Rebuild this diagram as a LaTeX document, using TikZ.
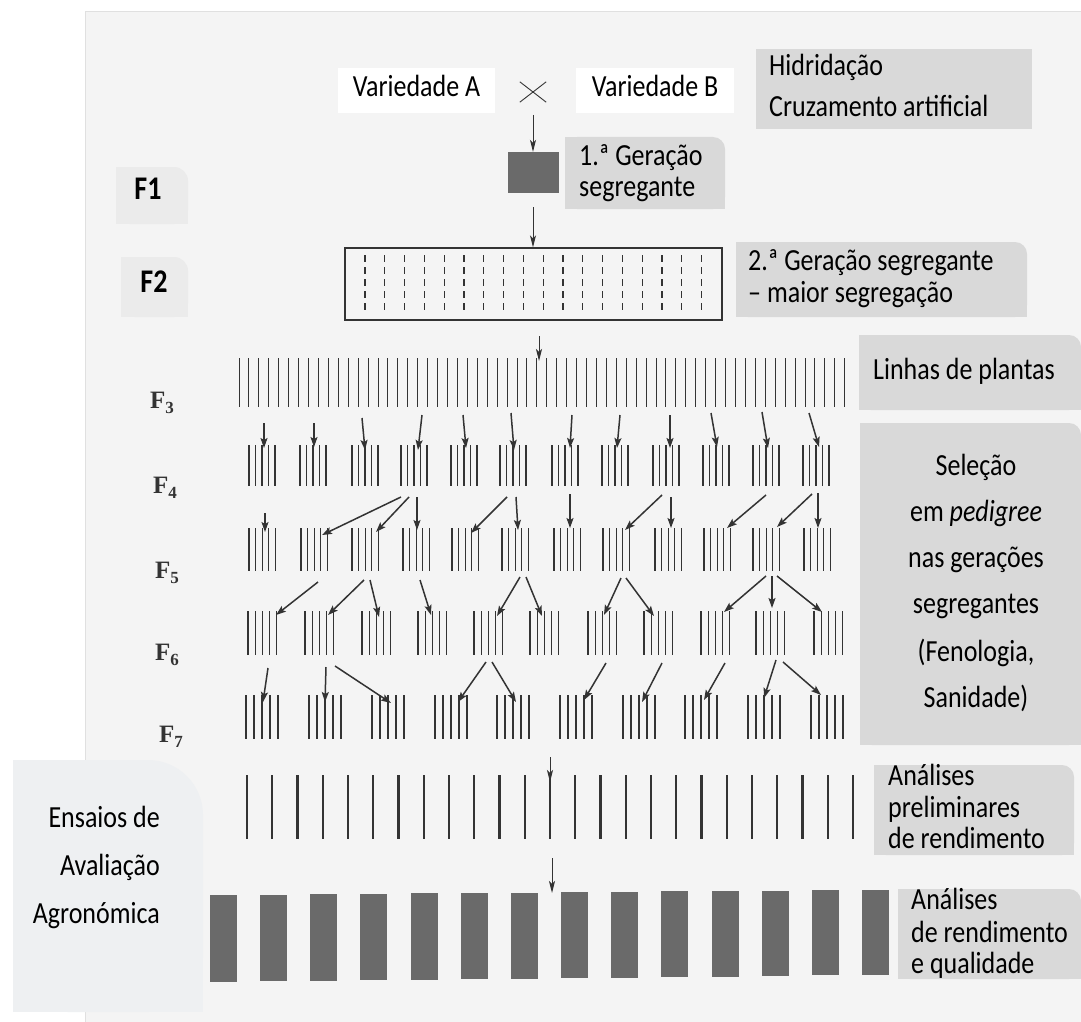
\documentclass[tikz,border=0pt]{standalone}
\usepackage{fontspec}
\usepackage{graphicx}
\setmainfont{Carlito}
\newfontfamily\fserif{Liberation Serif}
\usetikzlibrary{arrows.meta}
\definecolor{pagebg}{HTML}{F4F4F4}
\definecolor{boxgray}{HTML}{D9D9D9}
\definecolor{lightbox}{HTML}{EBEBEB}
\definecolor{ensbox}{HTML}{EEF0F2}
\definecolor{ink}{HTML}{333333}
\definecolor{bardark}{HTML}{6A6A6A}
\newcommand\trbox[6]{%
  \fill[#6,rounded corners=#5pt] (#1,#2) rectangle (#3,#4);
  \fill[#6] (#1,#2) rectangle ({#3-#5},#4);
  \fill[#6] (#1,{#2+#5}) rectangle (#3,#4);}
\newcommand\plantgrp[5]{%
  \foreach \k in {0,...,4} {\draw[plantline] ({#1+\k*#4},#2) -- ({#1+\k*#4},#3);}}
\newcommand\tall[1]{\scalebox{1}[1.18]{#1}}
\begin{document}
\begin{tikzpicture}[x=1pt,y=-1pt,
  txt/.style={inner sep=0pt, yshift=-3pt, font=\fontsize{26}{30}\selectfont, text=black},
  flab/.style={inner sep=0pt, font=\bfseries\fontsize{28}{30}\selectfont, text=black},
  glabel/.style={inner sep=0pt, font=\fserif\bfseries\fontsize{25}{28}\selectfont, text=ink},
  flowarrow/.style={draw=ink, line width=1pt, -{Stealth[length=12pt,width=6pt,inset=3pt]}},
  pedarrow/.style={draw=ink, line width=1.5pt, -{Stealth[length=10pt,width=7pt,inset=2pt]}},
  plantline/.style={draw=ink, line width=1.1pt},
]
\useasboundingbox (0,0) rectangle (1081,1022);
\fill[white] (0,0) rectangle (1081,1022);
% page
\fill[pagebg] (85,11) rectangle (1081,1022);
\draw[black!12, line width=0.6pt] (85,1022) -- (85,11) -- (1081,11);

% --- crossing
\fill[white] (338,68) rectangle (495,113);
\node[txt, anchor=mid] (vA) at (416.5,91) {\tall{Variedade A}};
\fill[white] (576,68) rectangle (734,113);
\node[txt, anchor=mid] (vB) at (655,91) {\tall{Variedade B}};
\node[inner sep=0pt, minimum width=26pt, minimum height=20pt] (cross) at (533,92) {};
\draw[ink, line width=0.9pt] (cross.north west) -- (cross.south east)
  (cross.south west) -- (cross.north east);
\fill[boxgray] (756,49) rectangle (1032,129);
\node[txt, anchor=mid west] (hib1) at (769,70) {\tall{Hidridação}};
\node[txt, anchor=mid west] (hib2) at (769,111) {\tall{Cruzamento artificial}};

% --- F1
\node[fill=bardark, minimum width=51pt, minimum height=41pt, inner sep=0pt] (f1sq) at (533,172.5) {};
\coordinate (a1s) at (533,115);
\draw[flowarrow] (a1s) -- (f1sq.north);
\trbox{565}{137}{725}{209}{12}{boxgray}
\node[txt, anchor=mid west] (g1a) at (579,160) {\tall{1.ª Geração}};
\node[txt, anchor=mid west] (g1b) at (579,191) {\tall{segregante}};
\trbox{116}{167}{188}{224}{14}{lightbox}
\node[flab, anchor=mid] (f1lab) at (148,197) {\tall{F1}};

% --- F2
\node[draw=ink, line width=1.4pt, fill=pagebg, minimum width=377pt, minimum height=72pt, inner sep=0pt] (f2rect) at (533.5,284) {};
\foreach \i in {0,...,17} {\draw[ink, line width=1.1pt, dash pattern=on 7pt off 5pt] ({365+\i*19.8},255) -- ({365+\i*19.8},312);}
\coordinate (a2s) at (533,207);
\draw[flowarrow] (a2s) -- (a2s |- f2rect.north);
\trbox{121}{257}{188}{317}{14}{lightbox}
\node[flab, anchor=mid] (f2lab) at (154,290) {\tall{F2}};
\trbox{736}{242}{1027}{317}{12}{boxgray}
\node[txt, anchor=mid west] (g2a) at (748,265) {\tall{2.ª Geração segregante}};
\node[txt, anchor=mid west] (g2b) at (748,297) {\tall{– maior segregação}};

% --- F3
\foreach \i in {0,...,61} {\draw[plantline, line width=1pt] ({239+\i*9.93},358) -- ({239+\i*9.93},407);}
\coordinate (a3s) at (539,336);
\coordinate (a3e) at (539,361);
\draw[flowarrow] (a3s) -- (a3e);
\trbox{859}{335}{1081}{410}{12}{boxgray}
\node[txt, anchor=mid west] (linhas) at (873,374) {\tall{Linhas de plantas}};

% --- generation labels
\node[glabel, anchor=base west] (lf3) at (150,408) {F\raisebox{-5pt}{\fontsize{17}{17}\selectfont 3}};
\node[glabel, anchor=base west] (lf4) at (153,493) {F\raisebox{-5pt}{\fontsize{17}{17}\selectfont 4}};
\node[glabel, anchor=base west] (lf5) at (155,578) {F\raisebox{-5pt}{\fontsize{17}{17}\selectfont 5}};
\node[glabel, anchor=base west] (lf6) at (155,660) {F\raisebox{-5pt}{\fontsize{17}{17}\selectfont 6}};
\node[glabel, anchor=base west] (lf7) at (159,742) {F\raisebox{-5pt}{\fontsize{17}{17}\selectfont 7}};

% --- F4 groups
\foreach \x in {249,300,352,401,451,500,552,602,653,703,753,803} {\plantgrp{\x}{445}{486}{6.5}{}}
\foreach \a/\b/\c/\d in {264/423/264/448, 314/423/314/447, 362/418/365/450, 422/415/418/450,
  463/415/466/448, 511/413/514/450, 572/415/570/448, 620/415/617/448, 670/415/670/448,
  711/413/717/447, 762/412/768/448, 809/413/819/447}
  {\draw[pedarrow] (\a,\b) -- (\c,\d);}

% --- F5 groups
\foreach \x in {249,301,352,403,452,502,554,603,655,704,753,804} {\plantgrp{\x}{528}{571}{6.6}{}}
\foreach \a/\b/\c/\d in {265/513/265/532, 401/497/322/535, 409/497/376/532, 417/497/417/530,
  507/497/471/533, 516/497/518/530, 570/494/570/528, 662/495/625/530, 671/497/671/528,
  766/495/727/528, 812/494/777/527, 818/493/818/528}
  {\draw[pedarrow] (\a,\b) -- (\c,\d);}

% --- F6 groups
\foreach \x in {248,305,362,418,474,530,588,644,701,756,814} {\plantgrp{\x}{611}{655}{7.2}{}}
\foreach \a/\b/\c/\d in {318/582/276/615, 364/580/328/615, 370/580/379/617, 420/580/431/615,
  520/577/497/616, 526/577/542/616, 621/578/604/615, 626/578/654/616,
  766/576/724/612, 772/576/772/608, 777/576/822/612}
  {\draw[pedarrow] (\a,\b) -- (\c,\d);}

% --- F7 groups
\foreach \x in {246,309,372,435,497,560,623,685,748,811} {\plantgrp{\x}{695}{739}{8}{}}
\foreach \a/\b/\c/\d in {268/668/263/702, 326/667/325/702, 335/666/391/703, 486/662/458/702,
  492/662/516/702, 606/663/584/700, 662/663/642/702, 725/663/704/700, 776/660/764/698,
  783/662/821/695}
  {\draw[pedarrow] (\a,\b) -- (\c,\d);}

% --- selection box
\trbox{860}{423}{1081}{745}{12}{boxgray}
\node[txt, anchor=mid] (s1) at (976,470) {\tall{Seleção}};
\node[txt, anchor=mid] (s2) at (976,516) {\tall{em \textit{pedigree}}};
\node[txt, anchor=mid] (s3) at (976,562) {\tall{nas gerações}};
\node[txt, anchor=mid] (s4) at (976,608) {\tall{segregantes}};
\node[txt, anchor=mid] (s5) at (976,656) {\tall{(Fenologia,}};
\node[txt, anchor=mid] (s6) at (976,702) {\tall{Sanidade)}};

% --- preliminary yield trials
\foreach \i in {0,...,24} {\draw[ink, line width=2.4pt] ({247+\i*25.25},775) -- ({247+\i*25.25},839);}
\coordinate (a5s) at (550,757);
\coordinate (a5e) at (550,782);
\draw[flowarrow] (a5s) -- (a5e);
\trbox{874}{765}{1074}{855}{12}{boxgray}
\node[txt, anchor=mid west] (p1) at (888,780) {\tall{Análises}};
\node[txt, anchor=mid west] (p2) at (888,812) {\tall{preliminares}};
\node[txt, anchor=mid west] (p3) at (888,843) {\tall{de rendimento}};

% --- final trials
\coordinate (a6s) at (552,858);
\coordinate (a6e) at (552,893);
\draw[flowarrow] (a6s) -- (a6e);
\foreach \i in {0,...,13} {\fill[bardark] ({210+\i*50.15},{895-\i*0.4}) rectangle ({237+\i*50.15},{982-\i*0.55});}
\trbox{898}{889}{1081}{979}{12}{boxgray}
\node[txt, anchor=mid west] (q1) at (911,904) {\tall{Análises}};
\node[txt, anchor=mid west] (q2) at (911,937) {\tall{de rendimento}};
\node[txt, anchor=mid west] (q3) at (911,968) {\tall{e qualidade}};

% --- Ensaios box
\trbox{13}{760}{203}{1012}{55}{ensbox}
\node[txt, anchor=mid east] (e1) at (160,822) {\tall{Ensaios de}};
\node[txt, anchor=mid east] (e2) at (160,870) {\tall{Avaliação}};
\node[txt, anchor=mid east] (e3) at (160,918) {\tall{Agronómica}};
\end{tikzpicture}
\end{document}
